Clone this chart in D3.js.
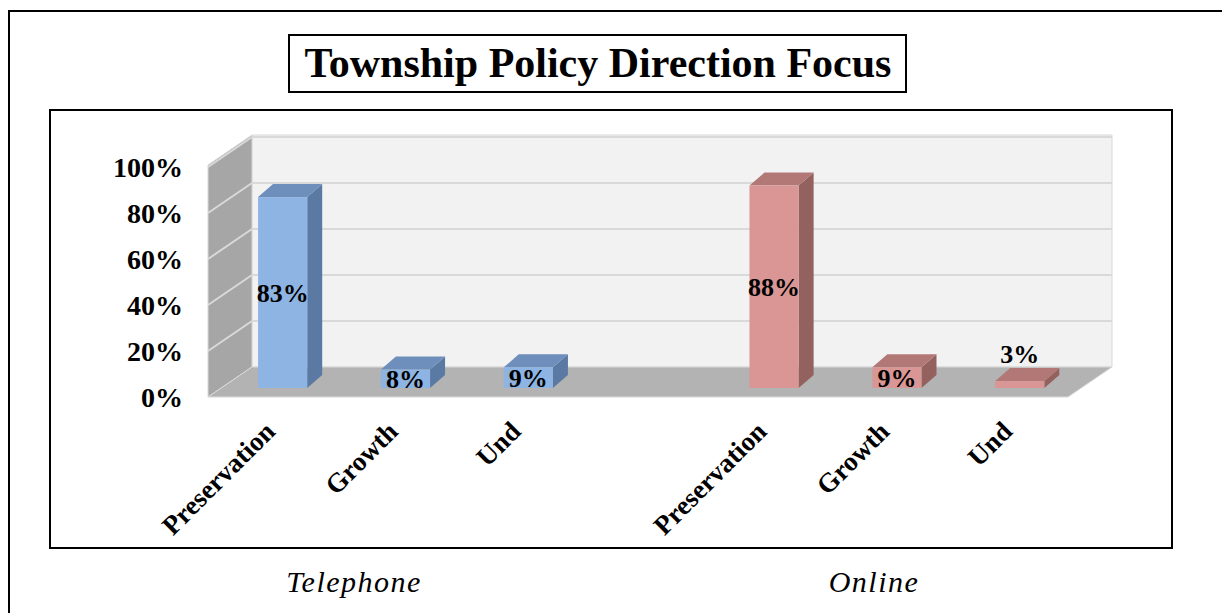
<!DOCTYPE html>
<html>
<head>
<meta charset="utf-8">
<script src="https://cdn.jsdelivr.net/npm/d3@7"></script>
<style>
  body { margin: 0; background: #fff; }
  svg { display: block; }
</style>
</head>
<body>
<svg id="main"></svg>
<script>
const width = 1222;
const height = 613;

// data
const groups = ['Telephone', 'Online'];
const categories = ['Preservation', 'Growth', 'Und'];
const telephoneValues = [83, 8, 9];
const onlineValues = [88, 9, 3];
const yTicks = [0, 20, 40, 60, 80, 100];
const groupValues = [telephoneValues, onlineValues];

const colors = {
    Telephone: { front: '#8db4e2', top: '#6e8fbb', side: '#5a7aa3' },
    Online: { front: '#d99694', top: '#b27876', side: '#93625f' }
};

// front plane of the 3d box
const plot = { left: 208, right: 1068, bottom: 397, top: 167 };
const depth = { dx: 44, dy: -30 };
const barDepthFrac = 0.3;
const barOff = { dx: depth.dx * barDepthFrac, dy: depth.dy * barDepthFrac };
const barThick = { dx: 15, dy: -13 };

// one slot per bar, with an empty slot between the two groups
const rows = [];
groups.forEach((g, gi) => {
    categories.forEach((c, ci) => {
        rows.push({ key: g + '-' + c, group: g, cat: c, value: groupValues[gi][ci] });
    });
});
const slots = ['Telephone-Preservation', 'Telephone-Growth', 'Telephone-Und', 'gap',
    'Online-Preservation', 'Online-Growth', 'Online-Und'];

const mainSvg = d3.select('#main').attr('width', width).attr('height', height);

// outer frame (top + left only)
mainSvg.append('path')
    .attr('d', `M9,${height} L9,11 L${width},11`)
    .attr('fill', 'none').attr('stroke', '#000').attr('stroke-width', 2);

// title box
mainSvg.append('rect')
    .attr('x', 289).attr('y', 35).attr('width', 617).attr('height', 57)
    .attr('fill', '#fff').attr('stroke', '#000').attr('stroke-width', 2);
mainSvg.append('text')
    .attr('x', 598).attr('y', 77)
    .attr('text-anchor', 'middle')
    .attr('font-family', 'Liberation Serif, serif')
    .attr('font-weight', 'bold')
    .attr('font-size', 42)
    .text('Township Policy Direction Focus');

// chart box
mainSvg.append('rect')
    .attr('x', 50).attr('y', 110).attr('width', 1122).attr('height', 438)
    .attr('fill', '#fff').attr('stroke', '#000').attr('stroke-width', 2);

const yScale = d3.scaleLinear().domain([0, 100]).range([plot.bottom, plot.top]);
const xScale = d3.scaleBand()
    .domain(slots)
    .range([plot.left + barOff.dx, plot.right + barOff.dx])
    .paddingInner(0.6)
    .paddingOuter(0.3);

const pts = arr => arr.map(p => p.join(',')).join(' ');
const y0 = yScale(0), y100 = yScale(100);

// back wall
mainSvg.append('polygon')
    .attr('points', pts([
        [plot.left + depth.dx, y0 + depth.dy], [plot.right + depth.dx, y0 + depth.dy],
        [plot.right + depth.dx, y100 + depth.dy - 2], [plot.left + depth.dx, y100 + depth.dy - 2]
    ]))
    .attr('fill', '#f2f2f2').attr('stroke', '#d9d9d9').attr('stroke-width', 1);
// side wall
mainSvg.append('polygon')
    .attr('points', pts([
        [plot.left, y0], [plot.left + depth.dx, y0 + depth.dy],
        [plot.left + depth.dx, y100 + depth.dy - 2], [plot.left, y100 - 2]
    ]))
    .attr('fill', '#a6a6a6').attr('stroke', '#d9d9d9').attr('stroke-width', 1);
// floor
mainSvg.append('polygon')
    .attr('points', pts([
        [plot.left, y0], [plot.right, y0],
        [plot.right + depth.dx, y0 + depth.dy], [plot.left + depth.dx, y0 + depth.dy]
    ]))
    .attr('fill', '#b3b3b3').attr('stroke', '#d9d9d9').attr('stroke-width', 1);

// gridlines
const grid = mainSvg.append('g').attr('class', 'grid');
grid.selectAll('.back')
    .data(yTicks.filter(t => t > 0))
    .join('line')
    .attr('x1', plot.left + depth.dx).attr('x2', plot.right + depth.dx)
    .attr('y1', d => yScale(d) + depth.dy).attr('y2', d => yScale(d) + depth.dy)
    .attr('stroke', '#d9d9d9').attr('stroke-width', 2);
grid.selectAll('.side')
    .data(yTicks.filter(t => t > 0))
    .join('line')
    .attr('x1', plot.left).attr('x2', plot.left + depth.dx)
    .attr('y1', d => yScale(d)).attr('y2', d => yScale(d) + depth.dy)
    .attr('stroke', '#d9d9d9').attr('stroke-width', 2);

// y axis labels
const yAxis = d3.axisLeft(yScale)
    .tickValues(yTicks)
    .tickFormat(d => d + '%')
    .tickSize(0)
    .tickPadding(0);
const yAxisG = mainSvg.append('g')
    .attr('class', 'y-axis')
    .attr('transform', 'translate(183,0)')
    .call(yAxis);
yAxisG.select('.domain').remove();
yAxisG.selectAll('text')
    .attr('font-family', 'Liberation Serif, serif')
    .attr('font-weight', 'bold')
    .attr('font-size', 28)
    .attr('fill', '#000')
    .attr('dy', '0.35em');

// bars
const bars = mainSvg.append('g').attr('class', 'bars')
    .selectAll('g')
    .data(rows)
    .join('g');
const barBox = d => {
    const x = xScale(d.key);
    const w = xScale.bandwidth();
    const yb = yScale(0) + barOff.dy;
    const yt = yScale(d.value) + barOff.dy;
    return { x, w, yb, yt };
};
bars.append('polygon')
    .attr('points', d => {
        const b = barBox(d);
        return pts([[b.x + b.w, b.yt], [b.x + b.w + barThick.dx, b.yt + barThick.dy],
            [b.x + b.w + barThick.dx, b.yb + barThick.dy], [b.x + b.w, b.yb]]);
    })
    .attr('fill', d => colors[d.group].side);
bars.append('polygon')
    .attr('points', d => {
        const b = barBox(d);
        return pts([[b.x, b.yt], [b.x + b.w, b.yt],
            [b.x + b.w + barThick.dx, b.yt + barThick.dy], [b.x + barThick.dx, b.yt + barThick.dy]]);
    })
    .attr('fill', d => colors[d.group].top);
bars.append('rect')
    .attr('x', d => barBox(d).x)
    .attr('y', d => barBox(d).yt)
    .attr('width', xScale.bandwidth())
    .attr('height', d => barBox(d).yb - barBox(d).yt)
    .attr('fill', d => colors[d.group].front);

// value labels
bars.append('text')
    .attr('x', d => barBox(d).x + xScale.bandwidth() / 2)
    .attr('y', d => {
        const b = barBox(d);
        return (b.yb - b.yt) < 15 ? b.yt - 27 : (b.yt + b.yb) / 2;
    })
    .attr('dy', '0.35em')
    .attr('text-anchor', 'middle')
    .attr('font-family', 'Liberation Serif, serif')
    .attr('font-weight', 'bold')
    .attr('font-size', 26)
    .text(d => d.value + '%');

// category labels
mainSvg.append('g').attr('class', 'x-labels')
    .selectAll('text')
    .data(rows)
    .join('text')
    .attr('transform', d => `translate(${xScale(d.key) + xScale.bandwidth() / 2 - 6},433) rotate(-45)`)
    .attr('text-anchor', 'end')
    .attr('font-family', 'Liberation Serif, serif')
    .attr('font-weight', 'bold')
    .attr('font-size', 27)
    .text(d => d.cat);

// group labels
const groupX = [354, 874];
mainSvg.append('g').attr('class', 'group-labels')
    .selectAll('text')
    .data(groups)
    .join('text')
    .attr('x', (d, i) => groupX[i])
    .attr('y', 592)
    .attr('text-anchor', 'middle')
    .attr('font-family', 'Liberation Serif, serif')
    .attr('font-style', 'italic')
    .attr('font-size', 30)
    .attr('letter-spacing', 1.5)
    .text(d => d);
</script>
</body>
</html>
